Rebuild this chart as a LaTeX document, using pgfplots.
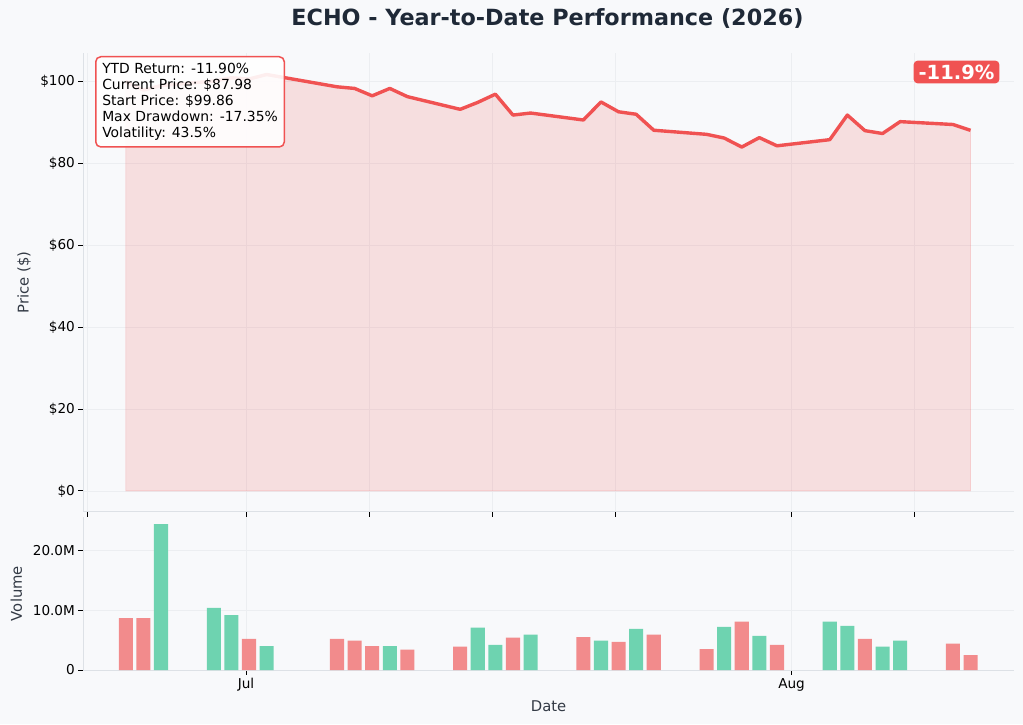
\documentclass[border=0pt]{standalone}
\usepackage{pgfplots}
\usepackage{pgfplotstable}
\pgfplotsset{compat=1.18}
\usepackage{fontspec}
\setmainfont{DejaVu Sans}

\definecolor{bg}{HTML}{F8F9FB}
\definecolor{lineRed}{HTML}{F05252}
\definecolor{barRed}{HTML}{F28B8C}
\definecolor{barGreen}{HTML}{6ED3B0}
\definecolor{spine}{HTML}{DDE1E6}
\definecolor{gridc}{HTML}{ECEEF1}
\definecolor{titlec}{HTML}{1F2937}
\definecolor{labelc}{HTML}{333A45}

% day index: 0 = 1 Jul 2026
\pgfplotstableread{
d price
-7 99.86
-6 97.8
-5 98.9
-2 100.0
-1 100.8
0 100.5
1 101.6
5 98.6
6 98.2
7 96.4
8 98.2
9 96.2
12 93.1
13 94.8
14 96.8
15 91.7
16 92.2
19 90.5
20 94.9
21 92.5
22 91.9
23 88.0
26 87.0
27 86.1
28 83.9
29 86.2
30 84.2
33 85.7
34 91.7
35 87.9
36 87.2
37 90.1
40 89.4
41 87.98
}\pricedata

\pgfplotstableread{
d vol
-7 8.7
-6 8.7
0 5.2
5 5.2
6 4.9
7 4.0
9 3.4
12 3.9
15 5.4
19 5.5
21 4.7
23 5.9
26 3.5
28 8.1
30 4.2
35 5.2
40 4.4
41 2.5
}\voldown

\pgfplotstableread{
d vol
-5 24.4
-2 10.4
-1 9.2
1 4.0
8 4.0
13 7.1
14 4.2
16 5.9
20 4.9
22 6.9
27 7.2
29 5.7
33 8.1
34 7.4
36 3.9
37 4.9
}\volup

% sessions are stamped a few hours after midnight
\def\dshift{0.17}

\pgfplotsset{
  panel/.style={
    scale only axis, anchor=south west,
    xmin=-9.246, xmax=43.64,
    axis x line*=bottom, axis y line*=left,
    axis line style={draw=spine, line width=0.8pt, -},
    tick align=outside, major tick length=4.9pt,
    tick style={black, line width=0.8pt},
    grid=major, grid style={gridc, line width=0.6pt},
    tick label style={font=\fontsize{13.6}{16}\selectfont, black},
    /pgf/number format/assume math mode=true,
    label style={font=\fontsize{14.8}{17}\selectfont, text=labelc},
  }
}

\begin{document}
\begin{tikzpicture}[x=1pt,y=1pt]
\fill[bg] (0,0) rectangle (1023,724);

\node[font=\bfseries\fontsize{22.3}{26}\selectfont, text=titlec] at (547.5,705) {ECHO - Year-to-Date Performance (2026)};

\begin{axis}[panel,
  at={(83.3pt,212.3pt)}, width=930.7pt, height=458.5pt,
  ymin=-5.08, ymax=106.8,
  ytick={0,20,40,60,80,100},
  yticklabels={\$0,\$20,\$40,\$60,\$80,\$100},
  xtick={-9,0,7,14,21,31,38},
  xticklabels={},
  ylabel={Price (\$)},
  ylabel style={at={(axis description cs:-0.0637,0.5)}, anchor=center, rotate=0},
]
\addplot[fill=lineRed, fill opacity=0.16, draw=lineRed, draw opacity=0.18, line width=0.8pt]
  table[x expr=\thisrow{d}+\dshift, y=price] {\pricedata} \closedcycle;
\addplot[lineRed, line width=3.4pt, line join=round]
  table[x expr=\thisrow{d}+\dshift, y=price] {\pricedata};
\end{axis}

\begin{axis}[panel,
  at={(83.3pt,54pt)}, width=930.7pt, height=153pt,
  ymin=0, ymax=25.6,
  ytick={0,10,20},
  yticklabels={0,10.0M,20.0M},
  xtick={0,31},
  xticklabels={Jul,Aug},
  ylabel={Volume},
  ylabel style={at={(axis description cs:-0.0720,0.5)}, anchor=center, rotate=0},
  xlabel={Date},
  xlabel style={at={(axis description cs:0.5,-0.235)}, anchor=center},
]
\addplot[ybar, bar width=0.8, bar shift=0pt, fill=barRed, draw=none]
  table[x expr=\thisrow{d}+\dshift, y=vol] {\voldown};
\addplot[ybar, bar width=0.8, bar shift=0pt, fill=barGreen, draw=none]
  table[x expr=\thisrow{d}+\dshift, y=vol] {\volup};
\end{axis}

\node[draw=lineRed, line width=1.5pt, fill=white, fill opacity=0.9, text opacity=1,
  rounded corners=5pt, anchor=north west, align=left, text=black,
  font=\fontsize{13.9}{16}\selectfont, inner xsep=6.5pt, inner ysep=6.5pt]
  at (95,668) {YTD Return: -11.90\%\\Current Price: \$87.98\\Start Price: \$99.86\\Max Drawdown: -17.35\%\\Volatility: 43.5\%};

\node[fill=lineRed, rounded corners=4pt, text=white,
  font=\bfseries\fontsize{19.5}{22}\selectfont, inner xsep=5pt, inner ysep=4pt]
  at (956.5,652) {-11.9\%};

\pgfresetboundingbox
\path[use as bounding box] (0,0) rectangle (1023,724);
\end{tikzpicture}
\end{document}
